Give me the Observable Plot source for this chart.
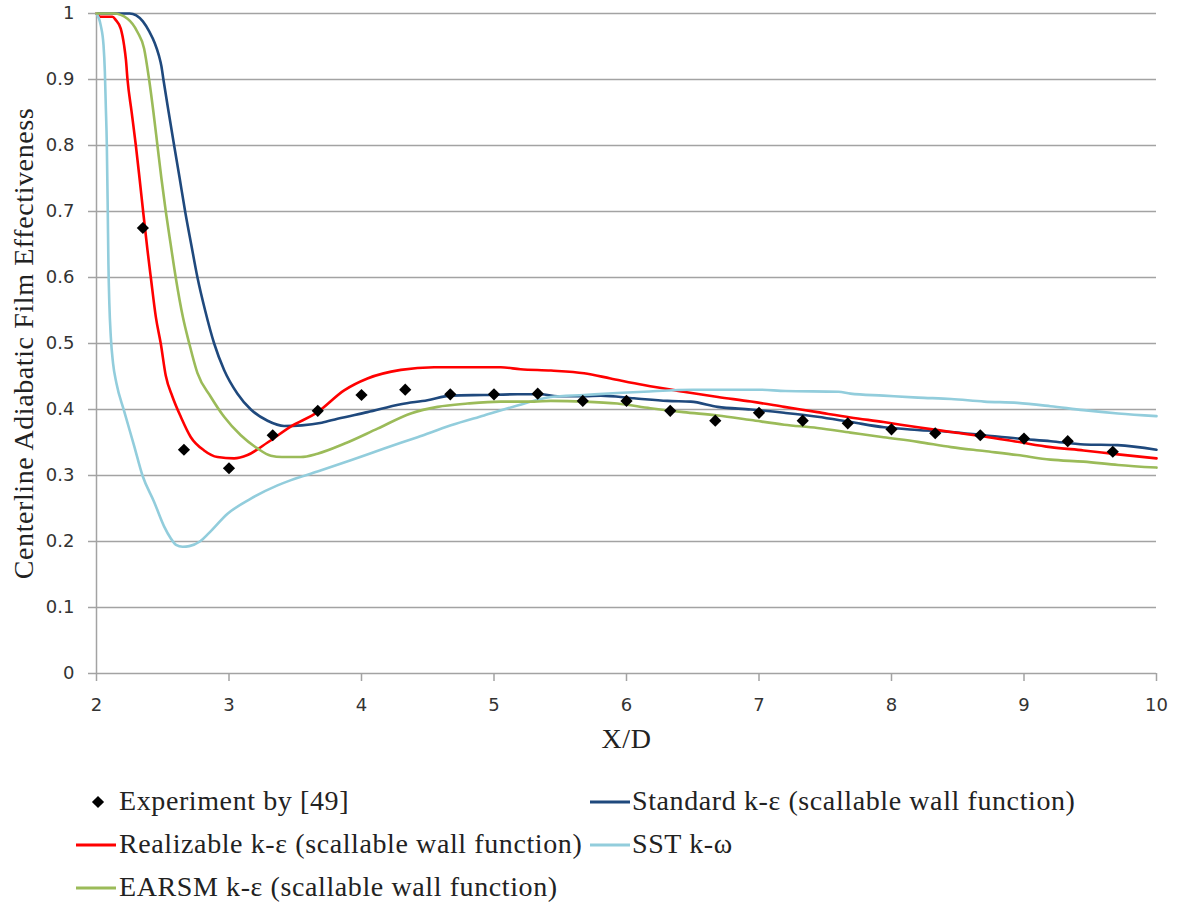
<!DOCTYPE html>
<html>
<head>
<meta charset="utf-8">
<script src="https://cdn.jsdelivr.net/npm/d3@7"></script>
<script src="https://cdn.jsdelivr.net/npm/@observablehq/plot@0.6"></script>
<style>
  html, body { margin: 0; padding: 0; background: #fff; }
  #chart svg { display: block; }
  g[font-family="Liberation Serif"] { letter-spacing: 0.6px; }
  .legend text { font-family: "Liberation Serif", serif; font-size: 28px; fill: #222; letter-spacing: 0.6px; }
</style>
</head>
<body>
<div id="chart"></div>
<script>
// ---- tick labels ----
const xTicks = [2, 3, 4, 5, 6, 7, 8, 9, 10];
const yTicks = [0, 0.1, 0.2, 0.3, 0.4, 0.5, 0.6, 0.7, 0.8, 0.9, 1];

// ---- series names ----
const seriesNames = [
  "Experiment by [49]",
  "Standard k-ε (scallable wall function)",
  "Realizable k-ε (scallable wall function)",
  "SST k-ω",
  "EARSM k-ε (scallable wall function)"
];
const seriesColors = ["#000000", "#1f497d", "#ff0000", "#92cddc", "#9bbb59"];

// ---- Experiment by [49] ----
const expX = [2.35, 2.66, 3.0, 3.33, 3.67, 4.0, 4.33, 4.67, 5.0, 5.33, 5.67, 6.0, 6.33, 6.67, 7.0, 7.33, 7.67, 8.0, 8.33, 8.67, 9.0, 9.33, 9.67];
const expY = [0.675, 0.339, 0.311, 0.361, 0.398, 0.422, 0.430, 0.423, 0.423, 0.424, 0.413, 0.413, 0.398, 0.383, 0.395, 0.383, 0.379, 0.370, 0.364, 0.361, 0.356, 0.352, 0.336];

// ---- Standard k-e ----
const stdX = [2.0, 2.25, 2.30, 2.35, 2.40, 2.44, 2.47, 2.49, 2.505, 2.545, 2.586, 2.628, 2.669, 2.715, 2.762, 2.82, 2.888, 2.963, 3.064, 3.165, 3.291, 3.416, 3.55, 3.70, 3.819, 4.045, 4.297, 4.498, 4.675, 4.925, 5.177, 5.353, 5.479, 5.680, 5.806, 6.057, 6.309, 6.485, 6.687, 6.938, 7.189, 7.442, 7.693, 7.944, 8.196, 8.447, 8.698, 8.951, 9.202, 9.454, 9.706, 10.0];
const stdY = [1.0, 1.0, 0.997, 0.988, 0.972, 0.955, 0.937, 0.92, 0.90, 0.85, 0.80, 0.75, 0.70, 0.65, 0.60, 0.55, 0.50, 0.46, 0.424, 0.40, 0.383, 0.375, 0.376, 0.380, 0.386, 0.396, 0.408, 0.414, 0.421, 0.422, 0.423, 0.423, 0.420, 0.420, 0.421, 0.417, 0.413, 0.412, 0.404, 0.400, 0.395, 0.389, 0.381, 0.373, 0.369, 0.366, 0.361, 0.356, 0.352, 0.347, 0.346, 0.339];

// ---- Realizable k-e ----
const relX = [2.0, 2.03, 2.12, 2.146, 2.183, 2.208, 2.222, 2.234, 2.265, 2.297, 2.325, 2.352, 2.385, 2.410, 2.448, 2.485, 2.523, 2.574, 2.636, 2.712, 2.812, 2.913, 3.038, 3.140, 3.291, 3.466, 3.668, 3.869, 4.045, 4.297, 4.548, 4.800, 5.051, 5.20, 5.43, 5.68, 5.88, 6.13, 6.43, 6.69, 6.94, 7.19, 7.44, 7.69, 7.94, 8.20, 8.45, 8.70, 8.95, 9.20, 9.45, 9.71, 10.0];
const relY = [1.0, 0.995, 0.995, 0.990, 0.977, 0.952, 0.93, 0.90, 0.851, 0.80, 0.75, 0.70, 0.641, 0.60, 0.540, 0.50, 0.451, 0.419, 0.389, 0.358, 0.338, 0.328, 0.326, 0.331, 0.350, 0.374, 0.396, 0.429, 0.447, 0.460, 0.464, 0.464, 0.464, 0.461, 0.459, 0.455, 0.447, 0.437, 0.427, 0.419, 0.412, 0.404, 0.396, 0.388, 0.381, 0.373, 0.366, 0.359, 0.351, 0.343, 0.338, 0.332, 0.326];

// ---- SST k-w ----
const sstX = [2.0, 2.032, 2.053, 2.063, 2.070, 2.078, 2.085, 2.090, 2.097, 2.108, 2.125, 2.150, 2.208, 2.284, 2.347, 2.435, 2.51, 2.56, 2.60, 2.65, 2.70, 2.78, 2.85, 2.989, 3.165, 3.366, 3.468, 3.668, 3.919, 4.171, 4.423, 4.675, 4.925, 5.177, 5.428, 5.680, 5.93, 6.13, 6.5, 7.0, 7.2, 7.6, 7.69, 7.94, 8.20, 8.45, 8.70, 8.95, 9.20, 9.45, 9.71, 10.0];
const sstY = [1.0, 0.982, 0.952, 0.912, 0.861, 0.80, 0.70, 0.62, 0.56, 0.51, 0.47, 0.44, 0.398, 0.345, 0.30, 0.26, 0.223, 0.205, 0.195, 0.192, 0.193, 0.200, 0.213, 0.242, 0.265, 0.285, 0.293, 0.306, 0.323, 0.341, 0.358, 0.376, 0.391, 0.406, 0.419, 0.422, 0.425, 0.427, 0.430, 0.430, 0.428, 0.427, 0.424, 0.421, 0.418, 0.416, 0.412, 0.410, 0.405, 0.399, 0.394, 0.390];

// ---- EARSM k-e ----
const earX = [2.0, 2.131, 2.234, 2.309, 2.359, 2.397, 2.43, 2.460, 2.49, 2.523, 2.56, 2.598, 2.652, 2.70, 2.762, 2.863, 2.963, 3.089, 3.215, 3.316, 3.40, 3.542, 3.668, 3.869, 4.121, 4.372, 4.574, 4.800, 5.051, 5.303, 5.43, 5.68, 5.93, 6.18, 6.43, 6.69, 6.94, 7.19, 7.44, 7.69, 7.94, 8.20, 8.45, 8.70, 8.95, 9.20, 9.45, 9.71, 10.0];
const earY = [1.0, 1.0, 0.992, 0.972, 0.947, 0.90, 0.85, 0.80, 0.75, 0.70, 0.65, 0.60, 0.540, 0.50, 0.455, 0.419, 0.389, 0.361, 0.341, 0.330, 0.328, 0.328, 0.333, 0.348, 0.371, 0.394, 0.404, 0.409, 0.412, 0.412, 0.413, 0.412, 0.409, 0.402, 0.396, 0.391, 0.384, 0.377, 0.372, 0.365, 0.358, 0.351, 0.343, 0.337, 0.331, 0.324, 0.321, 0.316, 0.312];

// ---- build tables ----
const toRows = (name, xs, ys) => xs.map((x, i) => ({series: name, x, y: ys[i]}));
const expRows = toRows(seriesNames[0], expX, expY);
const lineSeries = [
  {name: seriesNames[1], color: seriesColors[1], rows: toRows(seriesNames[1], stdX, stdY)},
  {name: seriesNames[2], color: seriesColors[2], rows: toRows(seriesNames[2], relX, relY)},
  {name: seriesNames[3], color: seriesColors[3], rows: toRows(seriesNames[3], sstX, sstY)},
  {name: seriesNames[4], color: seriesColors[4], rows: toRows(seriesNames[4], earX, earY)}
];

const gridColor = "#a3a3a3";
const serif = "Liberation Serif";

const plot = Plot.plot({
  width: 1178,
  height: 760,
  marginLeft: 96,
  marginRight: 22,
  marginTop: 13,
  marginBottom: 87,
  style: {fontFamily: "DejaVu Sans", fontSize: "18px", color: "#333", background: "#fff", display: "block", overflow: "visible"},
  x: {domain: [2, 10]},
  y: {domain: [0, 1]},
  marks: [
    Plot.gridY(yTicks, {stroke: gridColor, strokeOpacity: 1, strokeWidth: 1.5}),
    Plot.ruleX([2], {stroke: gridColor, strokeWidth: 1.5}),
    Plot.axisY(yTicks, {tickSize: 8, tickPadding: 14, tickFormat: d => String(d), stroke: gridColor, strokeWidth: 1.5, fill: "#333", label: null}),
    Plot.axisX(xTicks, {tickSize: 8, tickPadding: 17, tickFormat: d => String(d), stroke: gridColor, strokeWidth: 1.5, fill: "#333", label: null}),
    ...lineSeries.map(s => Plot.line(s.rows, {x: "x", y: "y", stroke: s.color, strokeWidth: 2.6, curve: "monotone-x"})),
    Plot.dot(expRows, {x: "x", y: "y", symbol: "diamond2", r: 5.5, fill: seriesColors[0], stroke: "none"}),
    Plot.text(["Centerline Adiabatic Film Effectiveness"], {frameAnchor: "left", rotate: -90, dx: -72, textAnchor: "middle", lineAnchor: "middle", fontFamily: serif, fontSize: 28, fill: "#222"}),
    Plot.text(["X/D"], {frameAnchor: "bottom", dy: 55, textAnchor: "middle", lineAnchor: "top", fontFamily: serif, fontSize: 28, fill: "#222"})
  ]
});
document.getElementById("chart").appendChild(plot);

// ---- legend below the chart ----
const legend = d3.select("#chart").append("svg")
  .attr("class", "legend")
  .attr("width", 1178)
  .attr("height", 147)
  .style("display", "block");

const legendItems = [
  {i: 0, kind: "dot",  sx: 76,  tx: 119, by: 50},
  {i: 1, kind: "line", sx: 590, tx: 632, by: 50},
  {i: 2, kind: "line", sx: 76,  tx: 119, by: 93},
  {i: 3, kind: "line", sx: 590, tx: 632, by: 93},
  {i: 4, kind: "line", sx: 76,  tx: 119, by: 136}
];
legendItems.forEach(it => {
  const cy = it.by - 8;
  if (it.kind === "dot") {
    legend.append("path")
      .attr("d", d3.symbol(d3.symbolDiamond2, Math.PI * 30)())
      .attr("transform", `translate(98,${cy})`)
      .attr("fill", seriesColors[it.i]);
  } else {
    legend.append("line")
      .attr("x1", it.sx).attr("x2", it.sx + 40)
      .attr("y1", cy).attr("y2", cy)
      .attr("stroke", seriesColors[it.i]).attr("stroke-width", 3);
  }
  legend.append("text").attr("x", it.tx).attr("y", it.by).text(seriesNames[it.i]);
});
</script>
</body>
</html>
